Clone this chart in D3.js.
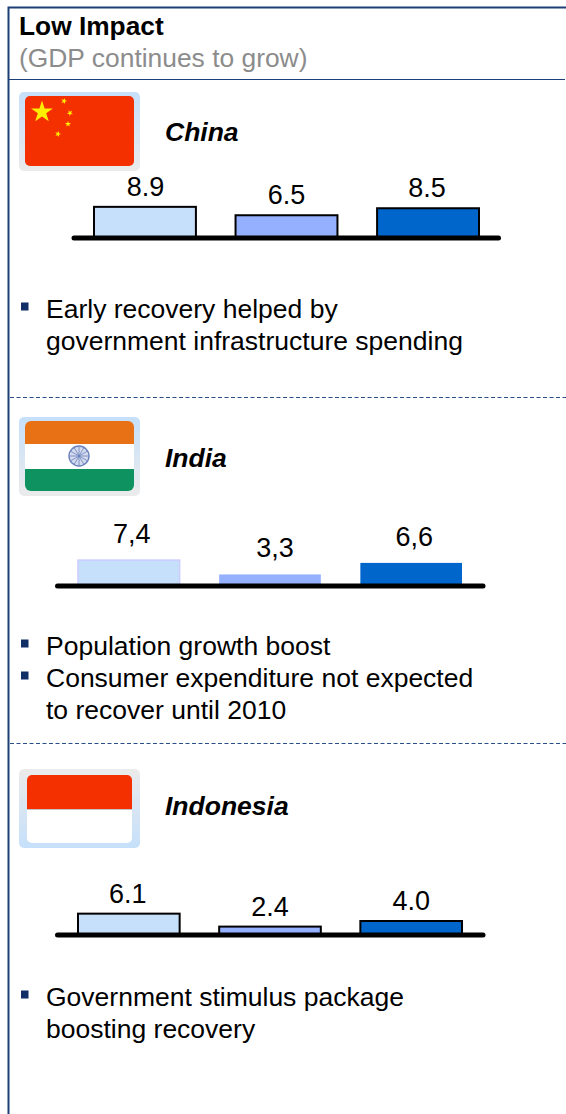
<!DOCTYPE html>
<html>
<head>
<meta charset="utf-8">
<title>Low Impact</title>
<script src="https://cdn.jsdelivr.net/npm/d3@7"></script>
<style>
  html, body { margin: 0; padding: 0; background: #fff; }
  svg { display: block; }
  text { font-family: "Liberation Sans", Arial, sans-serif; }
</style>
</head>
<body>
<svg id="chart" width="566" height="1114"></svg>
<script>
// GDP growth figures by country
const countries = ["China", "India", "Indonesia"];
const chinaValues = [8.9, 6.5, 8.5];
const indiaValues = [7.4, 3.3, 6.6];
const indonesiaValues = [6.1, 2.4, 4.0];
const chinaLabels = ["8.9", "6.5", "8.5"];
const indiaLabels = ["7,4", "3,3", "6,6"];
const indonesiaLabels = ["6.1", "2.4", "4.0"];
const seriesIndex = [0, 1, 2];
const seriesColors = ["#c6e0fb", "#94b0ff", "#0066cc"];
const chinaNotes = [["Early recovery helped by", "government infrastructure spending"]];
const indiaNotes = [["Population growth boost"], ["Consumer expenditure not expected", "to recover until 2010"]];
const indonesiaNotes = [["Government stimulus package", "boosting recovery"]];

const NAVY = "#1c3f78";
const svg = d3.select("#chart");
const defs = svg.append("defs");

// Flag surrounds fade between pale blue and pale grey
function frameGradient(id, top, bottom) {
  const g = defs.append("linearGradient").attr("id", id)
    .attr("x1", 0).attr("y1", 0).attr("x2", 0).attr("y2", 1);
  g.append("stop").attr("offset", "0%").attr("stop-color", top);
  g.append("stop").attr("offset", "100%").attr("stop-color", bottom);
}
frameGradient("frameDown", "#c6e0fb", "#ebebeb");
frameGradient("frameUp", "#ebebeb", "#c6e0fb");

// Panel frame and header
svg.append("path")
  .attr("d", "M8.5,1114V7.5H566")
  .attr("fill", "none").attr("stroke", NAVY).attr("stroke-width", 2);
svg.append("line").attr("x1", 9).attr("x2", 565).attr("y1", 79.5).attr("y2", 79.5)
  .attr("stroke", NAVY).attr("stroke-width", 1);
[397.5, 743.5].forEach(y => {
  svg.append("line").attr("x1", 10).attr("x2", 566).attr("y1", y).attr("y2", y)
    .attr("stroke", "#2a4f88").attr("stroke-width", 1).attr("stroke-dasharray", "4,2.5");
});
svg.append("text").attr("x", 19).attr("y", 35)
  .attr("font-size", 26.3).attr("font-weight", "bold").attr("fill", "#000").text("Low Impact");
svg.append("text").attr("x", 19).attr("y", 67)
  .attr("font-size", 26.4).attr("fill", "#8c8c8c").text("(GDP continues to grow)");

function star(cx, cy, r, rot) {
  const pts = d3.range(10).map(i => {
    const a = rot + i * Math.PI / 5 - Math.PI / 2;
    const rad = i % 2 ? r * 0.382 : r;
    return [cx + rad * Math.cos(a), cy + rad * Math.sin(a)];
  });
  return "M" + pts.map(p => p.join(",")).join("L") + "Z";
}

function flagChina(g) {
  g.append("rect").attr("x", 25).attr("y", 96).attr("width", 109).attr("height", 70)
    .attr("rx", 5).attr("fill", "#f42f00");
  g.append("path").attr("d", star(42, 112, 11.5, 0)).attr("fill", "#ffee00");
  [[64, 101, 0.3], [70, 113, 0.7], [68, 124, 0], [58, 134, 0.3]].forEach(s => {
    g.append("path").attr("d", star(s[0], s[1], 3.2, s[2])).attr("fill", "#ffee00");
  });
}

function flagIndia(g) {
  const clipId = "indiaClip";
  defs.append("clipPath").attr("id", clipId).append("rect")
    .attr("x", 25).attr("y", 421).attr("width", 109).attr("height", 70).attr("rx", 6);
  const c = g.append("g").attr("clip-path", `url(#${clipId})`);
  c.append("rect").attr("x", 25).attr("y", 421).attr("width", 109).attr("height", 23).attr("fill", "#e87116");
  c.append("rect").attr("x", 25).attr("y", 444).attr("width", 109).attr("height", 25).attr("fill", "#fff");
  c.append("rect").attr("x", 25).attr("y", 469).attr("width", 109).attr("height", 22).attr("fill", "#0e9360");
  g.append("circle").attr("cx", 79).attr("cy", 456).attr("r", 10)
    .attr("fill", "#d5dbee").attr("stroke", "#6a82bd").attr("stroke-width", 1.4);
  d3.range(12).forEach(i => {
    const a = i * Math.PI / 6;
    g.append("line").attr("x1", 79).attr("y1", 456)
      .attr("x2", 79 + 9.5 * Math.cos(a)).attr("y2", 456 + 9.5 * Math.sin(a))
      .attr("stroke", "#6a82bd").attr("stroke-width", 0.8);
  });
}

function flagIndonesia(g) {
  const clipId = "indonesiaClip";
  defs.append("clipPath").attr("id", clipId).append("rect")
    .attr("x", 27).attr("y", 775).attr("width", 105).attr("height", 68).attr("rx", 5);
  const c = g.append("g").attr("clip-path", `url(#${clipId})`);
  c.append("rect").attr("x", 27).attr("y", 775).attr("width", 105).attr("height", 68).attr("fill", "#fff");
  c.append("rect").attr("x", 27).attr("y", 775).attr("width", 105).attr("height", 34).attr("fill", "#f42f00");
  c.append("line").attr("x1", 27).attr("x2", 132).attr("y1", 809.5).attr("y2", 809.5)
    .attr("stroke", "#c4c4c4").attr("stroke-width", 1);
}

// One country block: flag, name, bars on a baseline, bullet notes
const panels = [
  { name: countries[0], values: chinaValues, labels: chinaLabels, notes: chinaNotes, drawFlag: flagChina,
    frameY: 92, frameFill: "frameDown", nameY: 141,
    axis: [74, 498.5], baseY: 238, bars: [94, 479], stroke: ["#000", "#000", "#000"], strokeW: 2,
    labelGap: 11, labelDx: [0.5, 0, -1], noteY: 318 },
  { name: countries[1], values: indiaValues, labels: indiaLabels, notes: indiaNotes, drawFlag: flagIndia,
    frameY: 417, frameFill: "frameDown", nameY: 467,
    axis: [57.5, 483], baseY: 586, bars: [78, 462], stroke: ["#ccccff", "none", "none"], strokeW: 1.5,
    labelGap: 17, labelDx: [3, 5, 3], noteY: 655 },
  { name: countries[2], values: indonesiaValues, labels: indonesiaLabels, notes: indonesiaNotes, drawFlag: flagIndonesia,
    frameY: 769, frameFill: "frameUp", nameY: 815,
    axis: [57.5, 483], baseY: 935, bars: [78, 462], stroke: ["#000", "#000", "#000"], strokeW: 2,
    labelGap: 11, labelDx: [-1, 0, 0], noteY: 1006 }
];

// Shared value scale: bar heights use the same pixels per point in every block
const barHeight = d3.scaleLinear().domain([0, 10]).range([0, 35]);

panels.forEach(p => {
  const g = svg.append("g").attr("class", "panel");

  g.append("rect").attr("x", 19).attr("y", p.frameY).attr("width", 121).attr("height", 79)
    .attr("rx", 5).attr("fill", `url(#${p.frameFill})`);
  p.drawFlag(g);

  g.append("text").attr("x", 165).attr("y", p.nameY)
    .attr("font-size", 26.5).attr("font-weight", "bold").attr("font-style", "italic")
    .attr("fill", "#000").text(p.name);

  const x = d3.scaleBand().domain(seriesIndex).range(p.bars).paddingInner(0.28);

  g.selectAll("rect.bar").data(p.values).join("rect").attr("class", "bar")
    .attr("x", (d, i) => x(i))
    .attr("width", x.bandwidth())
    .attr("y", d => p.baseY - barHeight(d))
    .attr("height", d => barHeight(d))
    .attr("fill", (d, i) => seriesColors[i])
    .attr("stroke", (d, i) => p.stroke[i])
    .attr("stroke-width", p.strokeW);

  g.append("line").attr("x1", p.axis[0]).attr("x2", p.axis[1])
    .attr("y1", p.baseY).attr("y2", p.baseY)
    .attr("stroke", "#000").attr("stroke-width", 5).attr("stroke-linecap", "round");

  g.selectAll("text.value").data(p.values).join("text").attr("class", "value")
    .attr("x", (d, i) => x(i) + x.bandwidth() / 2 + p.labelDx[i])
    .attr("y", d => p.baseY - barHeight(d) - p.labelGap)
    .attr("text-anchor", "middle").attr("font-size", 27).attr("fill", "#000")
    .text((d, i) => p.labels[i]);

  let line = 0;
  p.notes.forEach(note => {
    const y0 = p.noteY + line * 32;
    g.append("rect").attr("x", 21).attr("y", y0 - 15.5).attr("width", 7.5).attr("height", 8).attr("fill", "#0f2f66");
    note.forEach(t => {
      g.append("text").attr("x", 46).attr("y", p.noteY + line * 32)
        .attr("font-size", 26.5).attr("fill", "#000").text(t);
      line += 1;
    });
  });
});
</script>
</body>
</html>
